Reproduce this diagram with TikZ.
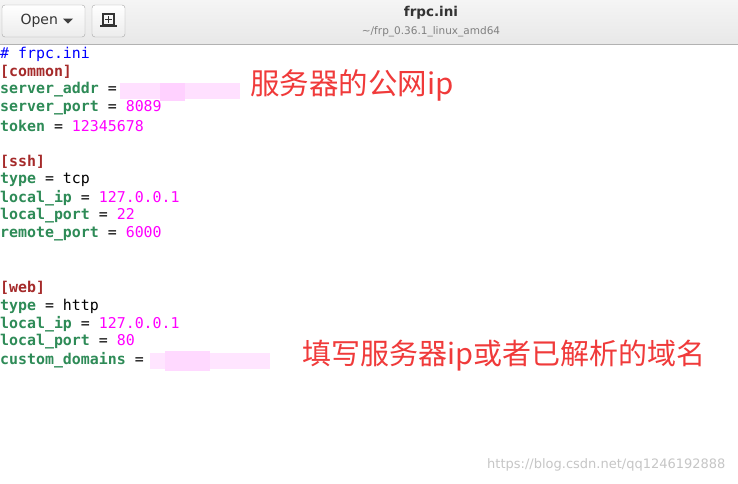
\documentclass[tikz,border=0pt]{standalone}
\usepackage{fontspec}
\setmainfont{DejaVu Sans}
\newfontfamily\mono{DejaVu Sans Mono}
\newfontfamily\cjk{Noto Sans CJK SC}
\definecolor{kw}{HTML}{2E8B57}
\definecolor{sec}{HTML}{A52A2A}
\definecolor{num}{HTML}{FF00FF}
\definecolor{cmt}{HTML}{0000FF}
\definecolor{ann}{HTML}{F03A3A}
\begin{document}
\begin{tikzpicture}[x=1pt,y=-1pt,
  ln/.style={anchor=west,inner sep=0pt,font=\mono\fontsize{14.9}{16}\selectfont},
  btn/.style={draw=gray!70,rounded corners=3pt,top color=white,bottom color=gray!15},
  note/.style={anchor=center,inner sep=0pt,text=ann}]
\useasboundingbox (0,0) rectangle (738,483);
\fill[white] (0,0) rectangle (738,483);
\shade[top color=gray!8,bottom color=gray!18] (0,0) rectangle (738,44);
\draw[gray!60] (0,44) -- (738,44);
\draw[btn] (2,5) rectangle (85,37);
\node[anchor=west,font=\fontsize{14}{15}\selectfont,text=black!80] (open) at (17,21) {Open};
\fill[black!75] (63,18.5) -- (73,18.5) -- (68,23.5) -- cycle;
\draw[btn] (92,5) rectangle (125,37);
\draw[black!80,line width=1.6pt] (103,14) rectangle (114,25);
\draw[black!80,line width=1.6pt] (100,26) -- (117,26);
\draw[black!80,line width=1.3pt] (108.5,16) -- (108.5,23) (105,19.5) -- (112,19.5);
\node[font=\bfseries\fontsize{13.5}{15}\selectfont,text=black!80] (title) at (431,13) {frpc.ini};
\node[font=\fontsize{10.5}{11}\selectfont,text=gray] (sub) at (431,32) {\textasciitilde/frp\_0.36.1\_linux\_amd64};
% blur blobs
\fill[num!12] (120,83) rectangle (240,99);
\fill[num!18] (160,83) rectangle (185,101);
\fill[num!10] (150,353) rectangle (270,369);
\fill[num!15] (165,351) rectangle (210,371);
\node[ln,text=cmt] (l0) at (0,54) {\# frpc.ini};
\node[ln,text=sec] (l1) at (0,72) {\bfseries [common]};
\node[ln] (l2) at (0,90) {\textcolor{kw}{\bfseries server\_addr} =};
\node[ln] (l3) at (0,108) {\textcolor{kw}{\bfseries server\_port} = \textcolor{num}{8089}};
\node[ln] (l4) at (0,126) {\textcolor{kw}{\bfseries token} = \textcolor{num}{12345678}};
\node[ln,text=sec] (l6) at (0,162) {\bfseries [ssh]};
\node[ln] (l7) at (0,180) {\textcolor{kw}{\bfseries type} = tcp};
\node[ln] (l8) at (0,198) {\textcolor{kw}{\bfseries local\_ip} = \textcolor{num}{127.0.0.1}};
\node[ln] (l9) at (0,216) {\textcolor{kw}{\bfseries local\_port} = \textcolor{num}{22}};
\node[ln] (l10) at (0,234) {\textcolor{kw}{\bfseries remote\_port} = \textcolor{num}{6000}};
\node[ln,text=sec] (l13) at (0,288) {\bfseries [web]};
\node[ln] (l14) at (0,306) {\textcolor{kw}{\bfseries type} = http};
\node[ln] (l15) at (0,324) {\textcolor{kw}{\bfseries local\_ip} = \textcolor{num}{127.0.0.1}};
\node[ln] (l16) at (0,342) {\textcolor{kw}{\bfseries local\_port} = \textcolor{num}{80}};
\node[ln] (l17) at (0,360) {\textcolor{kw}{\bfseries custom\_domains} =};
\node[note,font=\cjk\fontsize{29.5}{31}\selectfont] (n1) at (352,85) {服务器的公网ip};
\node[note,font=\cjk\fontsize{29}{30}\selectfont] (n2) at (504,356) {填写服务器ip或者已解析的域名};
\node[font=\fontsize{13}{14}\selectfont,text=gray!45,anchor=east] (wm) at (729,465) {https://blog.csdn.net/qq1246192888};
\end{tikzpicture}
\end{document}
